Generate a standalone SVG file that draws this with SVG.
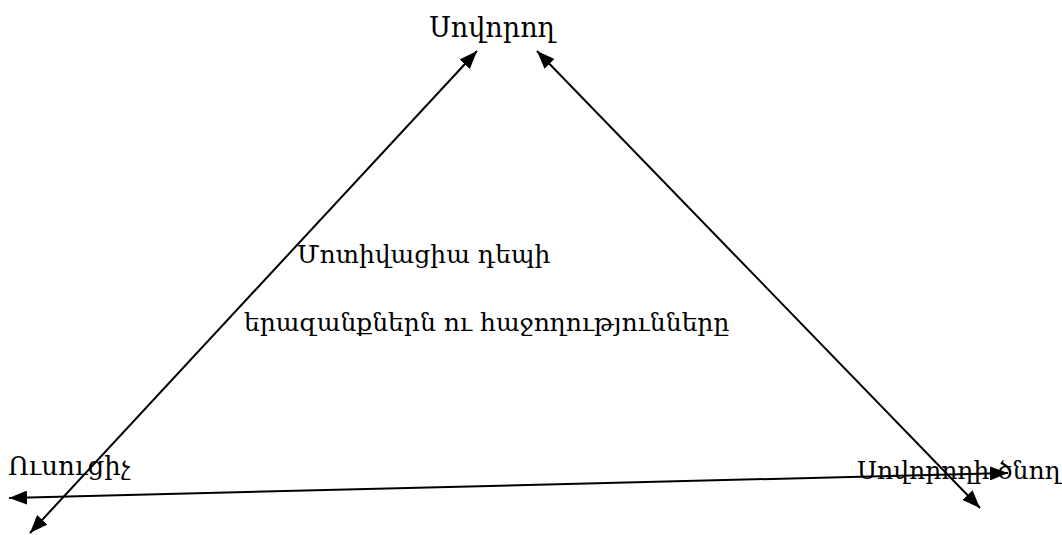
<svg xmlns="http://www.w3.org/2000/svg" width="1062" height="535" viewBox="0 0 1062 535">
<style>
text{font-family:"DejaVu Serif","Noto Serif",serif;font-size:25px;fill:#000}
.c line{stroke:#000;stroke-width:2;fill:none}
</style>
<defs>
<marker id="a" viewBox="0 0 18 14" refX="18" refY="7" markerWidth="18" markerHeight="14" markerUnits="userSpaceOnUse" orient="auto-start-reverse">
<path d="M0,0 L18,7 L0,14 z" fill="#000"/>
</marker>
</defs>
<rect width="1062" height="535" fill="#fff"/>
<g id="n1"><text x="492" y="37" text-anchor="middle" style="font-size:27px">Սովորող</text></g>
<g id="n2"><text x="8" y="475" style="font-size:26px">Ուսուցիչ</text></g>
<g id="n3"><text x="857" y="479">Սովորողի ծնող</text></g>
<g id="n4"><text x="297" y="263">Մոտիվացիա դեպի</text><text x="244" y="331">երազանքներն ու հաջողությունները</text></g>
<g class="c">
<line x1="30" y1="533" x2="477" y2="51" marker-start="url(#a)" marker-end="url(#a)"/>
<line x1="980" y1="508" x2="537" y2="51" marker-start="url(#a)" marker-end="url(#a)"/>
<line x1="9" y1="498" x2="1008" y2="473" marker-start="url(#a)" marker-end="url(#a)"/>
</g>
</svg>
